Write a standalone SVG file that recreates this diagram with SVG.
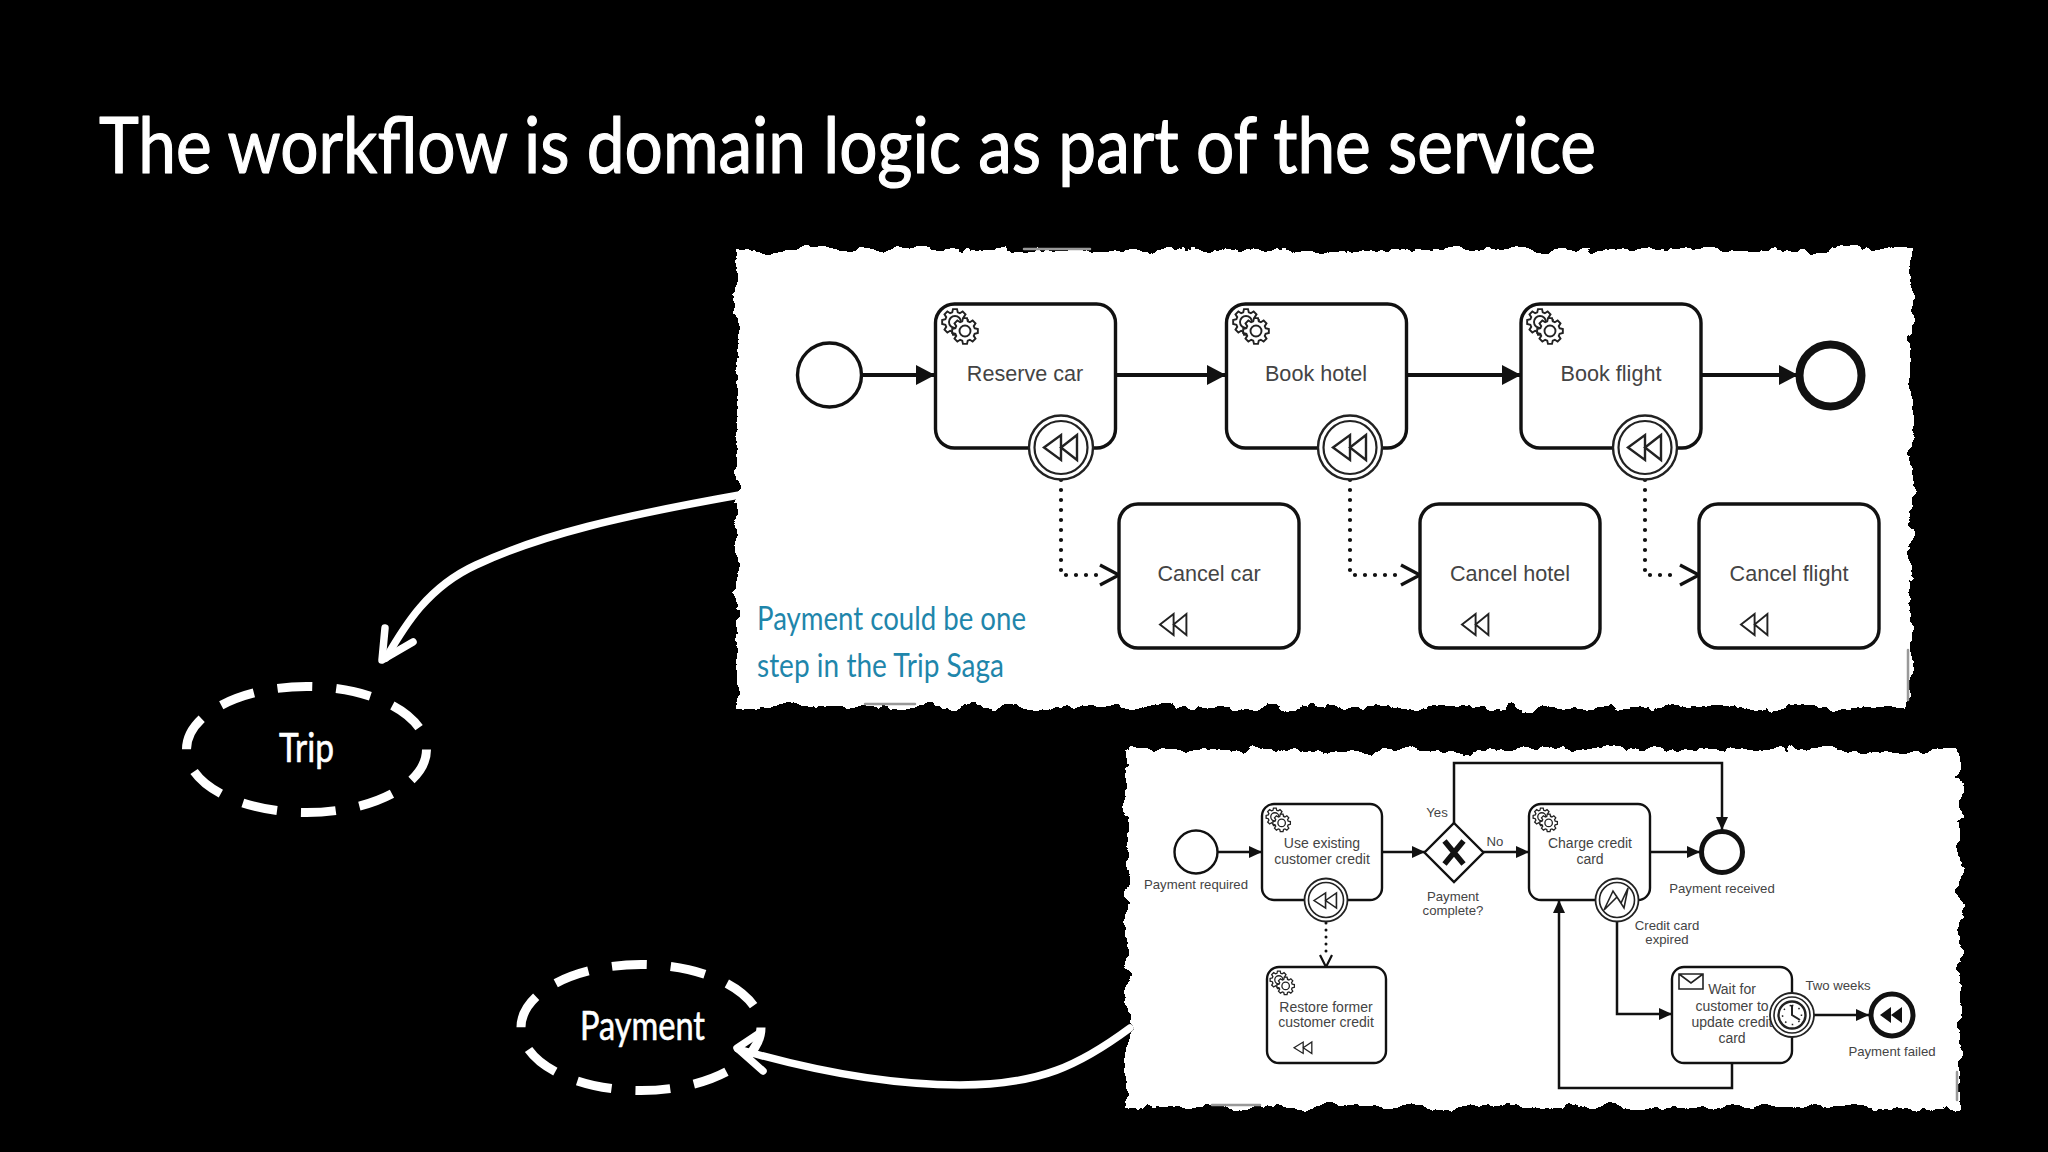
<svg xmlns="http://www.w3.org/2000/svg" xmlns:xlink="http://www.w3.org/1999/xlink" width="2048" height="1152" viewBox="0 0 2048 1152">
<style>
.hand{font-family:"Lato","Noto Sans",sans-serif;stroke-linejoin:round}
.wh{fill:#fff;stroke:#fff}
.l1{font-family:"Liberation Sans",Arial,sans-serif;font-size:21.600px;fill:#444;text-anchor:middle}
.l2{font-family:"Liberation Sans",Arial,sans-serif;font-size:14px;fill:#444;text-anchor:middle}
.l3{font-family:"Liberation Sans",Arial,sans-serif;font-size:13.200px;fill:#444;text-anchor:middle}
.t1{fill:#fff;stroke:#111;stroke-width:3.4}
.t2{fill:#fff;stroke:#111;stroke-width:2.4}
.ln1{fill:none;stroke:#111;stroke-width:4}
.ln2{fill:none;stroke:#111;stroke-width:2.500}
.dot1{fill:none;stroke:#111;stroke-width:4.200;stroke-dasharray:0 10;stroke-linecap:round}
.dot2{fill:none;stroke:#111;stroke-width:3;stroke-dasharray:0 7;stroke-linecap:round}
.bd{fill:#fff;stroke:#222}
.ring{fill:none;stroke:#222}
.ic{fill:none;stroke:#222;stroke-width:2.4;stroke-linejoin:miter}
.wa{fill:none;stroke:#fff;stroke-width:7.5;stroke-linecap:round;stroke-linejoin:round}
.ds{fill:none;stroke:#fff;stroke-width:9;stroke-dasharray:35 23.9}
.sm{fill:none;stroke:#999;stroke-width:2.500;stroke-linecap:round}
</style>
<defs>
<filter id="torn" x="-3%" y="-5%" width="106%" height="110%" color-interpolation-filters="sRGB">
<feTurbulence type="fractalNoise" baseFrequency="0.05" numOctaves="5" seed="7" result="n"/>
<feDisplacementMap in="SourceGraphic" in2="n" scale="16" xChannelSelector="R" yChannelSelector="G"/>
</filter>
<marker id="a1" markerUnits="userSpaceOnUse" markerWidth="20" markerHeight="22" refX="19" refY="11" orient="auto"><path d="M0 1L19 11L0 21Z" fill="#111"/></marker>
<marker id="a2" markerUnits="userSpaceOnUse" markerWidth="14" markerHeight="14" refX="13" refY="7" orient="auto"><path d="M0 1L13 7L0 13Z" fill="#111"/></marker>
<marker id="o1" markerUnits="userSpaceOnUse" markerWidth="24" markerHeight="26" refX="21" refY="13" orient="auto"><path d="M2 3L21 13L2 23" fill="none" stroke="#111" stroke-width="3.4"/></marker>
<marker id="o2" markerUnits="userSpaceOnUse" markerWidth="16" markerHeight="18" refX="14" refY="9" orient="auto"><path d="M2 3L14 9L2 15" fill="none" stroke="#111" stroke-width="2.2"/></marker>
<path id="g" d="M9.61-2.76L12.84-2.03L12.84 2.03L9.61 2.76L8.75 4.84L10.51 7.64L7.64 10.51L4.84 8.75L2.76 9.61L2.03 12.84L-2.03 12.84L-2.76 9.61L-4.84 8.75L-7.64 10.51L-10.51 7.64L-8.75 4.84L-9.61 2.76L-12.84 2.03L-12.84-2.03L-9.61-2.76L-8.75-4.84L-10.51-7.64L-7.64-10.51L-4.84-8.75L-2.76-9.61L-2.03-12.84L2.03-12.84L2.76-9.61L4.84-8.75L7.64-10.51L10.51-7.64L8.75-4.84Z"/>
<g id="gear" fill="#fff" stroke="#222" stroke-width="1.9">
<use href="#g" x="13" y="13"/><circle cx="13" cy="13" r="6"/>
<use href="#g" x="23" y="22"/><circle cx="23" cy="22" r="5.5"/>
</g>
<path id="rew" class="ic" d="M0 12.5L17 0V25ZM17 12.5L33 0V25Z"/>
</defs>

<rect width="2048" height="1152" fill="#000"/>
<text class="hand wh" x="99" y="173" font-size="78" stroke-width="1.2" textLength="1497" lengthAdjust="spacingAndGlyphs">The workflow is domain logic as part of the service</text>

<g id="links-outer">
<path class="wa" d="M745 494C620 516 540 535 476 565C428 587 405 625 386 658"/>
<path class="wa" d="M385 628L382 660L413 642"/>
<path class="wa" d="M738 1049C810 1070 890 1085 960 1085C1040 1085 1080 1065 1130 1028"/>
<path class="wa" d="M761 1032L737 1048L763 1071"/>
</g>

<rect id="panel-top" x="737" y="250" width="1174" height="457" fill="#fff" filter="url(#torn)"/>
<rect id="panel-bottom" x="1127" y="750" width="833" height="357" fill="#fff" filter="url(#torn)"/>
<path class="sm" d="M1024 249H1090M865 704H915M1908 650V700M1212 1105H1260M1957 1072V1100"/>

<text class="hand" x="757" y="630" font-size="33" fill="#1f86ab" textLength="269" lengthAdjust="spacingAndGlyphs">Payment could be one</text>
<text class="hand" x="757" y="677" font-size="33" fill="#1f86ab" textLength="247" lengthAdjust="spacingAndGlyphs">step in the Trip Saga</text>

<g id="connectors">
<path class="ln1" marker-end="url(#a1)" d="M862 375H935"/>
<path class="ln1" marker-end="url(#a1)" d="M1115 375H1226"/>
<path class="ln1" marker-end="url(#a1)" d="M1407 375H1521"/>
<path class="ln1" marker-end="url(#a1)" d="M1701 375H1798"/>
<path class="dot1" d="M1061 480V575H1100"/><path class="ln1" style="stroke:none" marker-end="url(#o1)" d="M1100 575H1119"/>
<path class="dot1" d="M1350 480V575H1401"/><path class="ln1" style="stroke:none" marker-end="url(#o1)" d="M1401 575H1420"/>
<path class="dot1" d="M1645 480V575H1680"/><path class="ln1" style="stroke:none" marker-end="url(#o1)" d="M1680 575H1699"/>
<path class="ln2" marker-end="url(#a2)" d="M1218 852H1262"/>
<path class="ln2" marker-end="url(#a2)" d="M1382 852H1425"/>
<path class="ln2" marker-end="url(#a2)" d="M1483 852H1529"/>
<path class="ln2" marker-end="url(#a2)" d="M1454 823V763H1722V830"/>
<path class="ln2" marker-end="url(#a2)" d="M1650 852H1700"/>
<path class="ln2" marker-end="url(#a2)" d="M1617 921V1014H1672"/>
<path class="ln2" marker-end="url(#a2)" d="M1732 1063V1088H1559V900"/>
<path class="ln2" marker-end="url(#a2)" d="M1814 1015H1869"/>
<path class="dot2" d="M1326 923V956"/><path class="ln2" style="stroke:none" marker-end="url(#o2)" d="M1326 955V967"/>
</g>

<g id="start1"><circle cx="829.5" cy="375" r="32" fill="#fff" stroke="#111" stroke-width="3.4"/></g>
<g id="reserve-car"><rect class="t1" x="935.5" y="304" width="180" height="144" rx="19"/><use href="#gear" transform="translate(942 309)"/><text class="l1" x="1025" y="381">Reserve car</text>
<circle class="bd" stroke-width="2.4" cx="1061" cy="447.5" r="32"/><circle class="ring" stroke-width="2.2" cx="1061" cy="447.5" r="26.5"/><use href="#rew" transform="translate(1044 435)"/></g>
<g id="book-hotel"><rect class="t1" x="1226.5" y="304" width="180" height="144" rx="19"/><use href="#gear" transform="translate(1233 309)"/><text class="l1" x="1316" y="381">Book hotel</text>
<circle class="bd" stroke-width="2.4" cx="1350" cy="447.5" r="32"/><circle class="ring" stroke-width="2.2" cx="1350" cy="447.5" r="26.5"/><use href="#rew" transform="translate(1333 435)"/></g>
<g id="book-flight"><rect class="t1" x="1521" y="304" width="180" height="144" rx="19"/><use href="#gear" transform="translate(1527 309)"/><text class="l1" x="1611" y="381">Book flight</text>
<circle class="bd" stroke-width="2.4" cx="1645" cy="447.5" r="32"/><circle class="ring" stroke-width="2.2" cx="1645" cy="447.5" r="26.5"/><use href="#rew" transform="translate(1628 435)"/></g>
<g id="end1"><circle cx="1830.5" cy="375.5" r="31" fill="#fff" stroke="#111" stroke-width="8"/></g>
<g id="cancel-car"><rect class="t1" x="1119" y="504" width="180" height="144" rx="19"/><text class="l1" x="1209" y="581">Cancel car</text><use href="#rew" transform="translate(1160 614) scale(.8 .84)"/></g>
<g id="cancel-hotel"><rect class="t1" x="1420" y="504" width="180" height="144" rx="19"/><text class="l1" x="1510" y="581">Cancel hotel</text><use href="#rew" transform="translate(1462 614) scale(.8 .84)"/></g>
<g id="cancel-flight"><rect class="t1" x="1699" y="504" width="180" height="144" rx="19"/><text class="l1" x="1789" y="581">Cancel flight</text><use href="#rew" transform="translate(1741 614) scale(.8 .84)"/></g>

<g id="start2"><circle cx="1196" cy="852" r="21.5" fill="#fff" stroke="#111" stroke-width="2.4"/><text class="l3" x="1196" y="889">Payment required</text></g>
<g id="use-credit"><rect class="t2" x="1262" y="804" width="120" height="96" rx="12"/><use href="#gear" transform="translate(1266 808) scale(.68)"/><text class="l2" x="1322" y="848">Use existing</text><text class="l2" x="1322" y="864">customer credit</text>
<circle class="bd" stroke-width="1.8" cx="1326" cy="900" r="21.5"/><circle class="ring" stroke-width="1.6" cx="1326" cy="900" r="17.5"/><use href="#rew" transform="translate(1314 893) scale(.68 .6)"/></g>
<g id="restore-credit"><rect class="t2" x="1267" y="967" width="119" height="96" rx="12"/><use href="#gear" transform="translate(1270 971) scale(.68)"/><text class="l2" x="1326" y="1012">Restore former</text><text class="l2" x="1326" y="1027">customer credit</text><use href="#rew" transform="translate(1294 1042) scale(.54 .46)"/></g>
<g id="gateway"><path d="M1454 823L1483.5 852.5L1454 882L1424.500 852.500Z" fill="#fff" stroke="#111" stroke-width="2.4"/><path d="M1444.500 841L1463.500 864M1463.500 841L1444.500 864" fill="none" stroke="#111" stroke-width="5.500"/><text class="l3" x="1437" y="817">Yes</text><text class="l3" x="1495" y="846">No</text><text class="l3" x="1453" y="901">Payment</text><text class="l3" x="1453" y="915">complete?</text></g>
<g id="charge"><rect class="t2" x="1529" y="804" width="121" height="96" rx="12"/><use href="#gear" transform="translate(1533 808) scale(.68)"/><text class="l2" x="1590" y="848">Charge credit</text><text class="l2" x="1590" y="864">card</text>
<circle class="bd" stroke-width="1.8" cx="1617" cy="900" r="21.5"/><circle class="ring" stroke-width="1.6" cx="1617" cy="900" r="17.5"/><path class="ic" style="stroke-width:1.6" d="M1604 910L1613 891L1621 903L1628 888L1624 908L1617 897Z"/><text class="l3" x="1667" y="930">Credit card</text><text class="l3" x="1667" y="944">expired</text></g>
<g id="end2"><circle cx="1722" cy="852" r="20.500" fill="#fff" stroke="#111" stroke-width="5"/><text class="l3" x="1722" y="893">Payment received</text></g>
<g id="wait"><rect class="t2" x="1672" y="967" width="120" height="96" rx="12"/><path fill="#fff" stroke="#222" stroke-width="1.6" d="M1679 974H1703V989H1679ZM1679 974L1691 983L1703 974"/><text class="l2" x="1732" y="994">Wait for</text><text class="l2" x="1732" y="1011">customer to</text><text class="l2" x="1732" y="1027">update credit</text><text class="l2" x="1732" y="1043">card</text>
<circle class="bd" stroke-width="1.8" cx="1792" cy="1015" r="22"/><circle class="ring" stroke-width="1.600" cx="1792" cy="1015" r="18"/><circle class="ring" stroke-width="2.4" cx="1792" cy="1015" r="13.500"/><path class="ring" stroke-width="2" d="M1792 1005V1015L1800 1020"/><path class="ring" stroke-width="1.500" stroke-dasharray="1.500 5.570" d="M1792 1005.500a9.500 9.500 0 1 1-.01 0"/><text class="l3" x="1838" y="990">Two weeks</text></g>
<g id="failed"><circle cx="1892" cy="1015" r="21" fill="#fff" stroke="#111" stroke-width="5"/><path fill="#111" d="M1880 1015L1891 1007V1023ZM1891 1015L1902 1007V1023Z"/><text class="l3" x="1892" y="1056">Payment failed</text></g>

<g id="trip"><ellipse class="ds" cx="306.500" cy="749.500" rx="120" ry="63"/><text class="hand wh" x="279" y="762" font-size="40" stroke-width=".6" textLength="55" lengthAdjust="spacingAndGlyphs">Trip</text></g>
<g id="payment"><ellipse class="ds" cx="641" cy="1027.500" rx="120" ry="63"/><text class="hand wh" x="580" y="1040" font-size="40" stroke-width=".6" textLength="125" lengthAdjust="spacingAndGlyphs">Payment</text></g>
</svg>
